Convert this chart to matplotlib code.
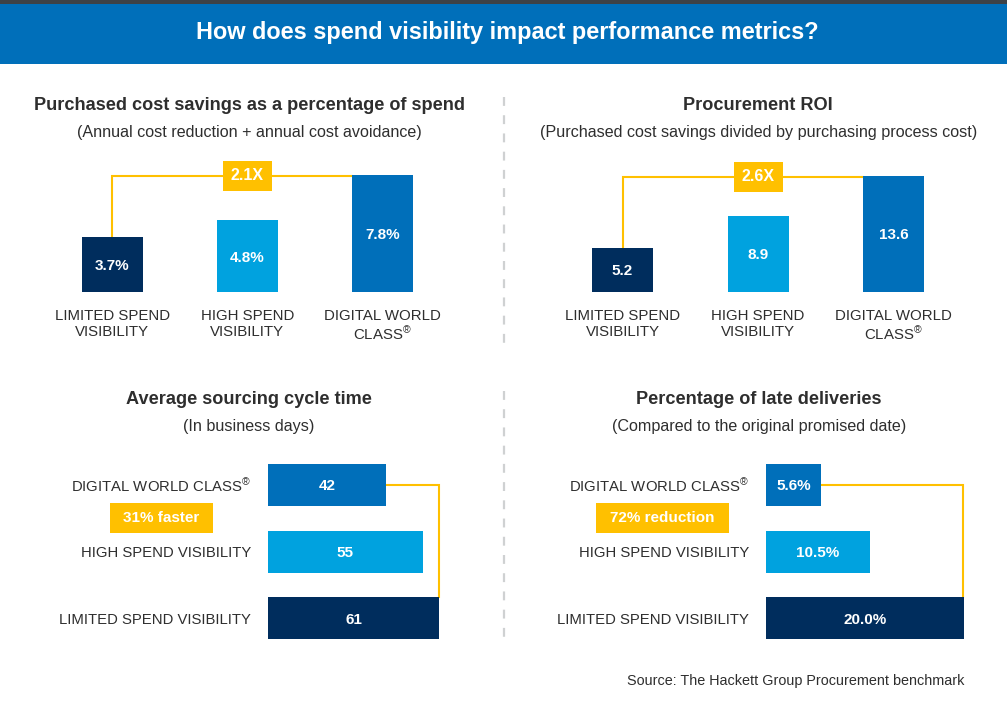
import matplotlib
matplotlib.use("Agg")
import matplotlib.pyplot as plt
from matplotlib.patches import Rectangle
from matplotlib.lines import Line2D
import matplotlib.transforms as mtransforms

plt.rcParams['font.family'] = ['Liberation Sans', 'DejaVu Sans']
plt.rcParams['mathtext.fontset'] = 'custom'
plt.rcParams['mathtext.rm'] = 'Liberation Sans'
plt.rcParams['mathtext.it'] = 'Liberation Sans'
plt.rcParams['mathtext.bf'] = 'Liberation Sans:bold'

# ---------------- data ----------------
top_categories = ["LIMITED SPEND\nVISIBILITY", "HIGH SPEND\nVISIBILITY", "DIGITAL WORLD\nCLASS$^{®}$"]
savings_values = [3.7, 4.8, 7.8]
savings_labels = ["3.7%", "4.8%", "7.8%"]
roi_values = [5.2, 8.9, 13.6]
roi_labels = ["5.2", "8.9", "13.6"]

bottom_categories = ["LIMITED SPEND VISIBILITY", "HIGH SPEND VISIBILITY", "DIGITAL WORLD CLASS$^{®}$"]
cycle_values = [61, 55, 42]
cycle_labels = ["61", "55", "42"]
late_values = [20.0, 10.5, 5.6]
late_labels = ["20.0%", "10.5%", "5.6%"]

badges = ["2.1X", "2.6X", "31% faster", "72% reduction"]

# ---------------- style ----------------
C_NAVY = "#002d5d"
C_LIGHT = "#00a2df"
C_MID = "#006fba"
C_YEL = "#ffc000"
C_TXT = "#2e2e2e"
BAR_COLORS = [C_NAVY, C_LIGHT, C_MID]

W, H = 1007, 706
fig = plt.figure(figsize=(W / 100, H / 100), dpi=100)


def px_ax(x0, y0, x1, y1):
    """axes from pixel box (top-left origin)"""
    return fig.add_axes([x0 / W, 1 - y1 / H, (x1 - x0) / W, (y1 - y0) / H])


def figtext(x, y, s, **kw):
    fig.text(x / W, 1 - y / H, s, **kw)


# banner
bg = fig.add_axes([0, 0, 1, 1])
bg.set_xlim(0, W)
bg.set_ylim(H, 0)
bg.axis("off")
bg.add_patch(Rectangle((0, 0), W, 4, color="#3d4247", lw=0))
bg.add_patch(Rectangle((0, 4), W, 60, color="#006fba", lw=0))
# dividers
bg.add_line(Line2D([504, 504], [97, 345], color="#cfd1d2", lw=1.6, dashes=(4, 4.2)))
bg.add_line(Line2D([504, 504], [391, 640], color="#cfd1d2", lw=1.6, dashes=(4, 4.2)))

figtext(507, 32, "How does spend visibility impact performance metrics?", color="white",
        fontsize=16.9, fontweight="bold", ha="center", va="center")

# titles
title_kw = dict(fontsize=13.1, fontweight="bold", color=C_TXT, ha="center", va="center")
sub_kw = dict(fontsize=11.6, color=C_TXT, ha="center", va="center")
figtext(250, 105, "Purchased cost savings as a percentage of spend", **title_kw)
figtext(249, 132, "(Annual cost reduction + annual cost avoidance)", **sub_kw)
figtext(758, 105, "Procurement ROI", **title_kw)
figtext(759, 132, "(Purchased cost savings divided by purchasing process cost)", **sub_kw)
figtext(249, 400, "Average sourcing cycle time", **title_kw)
figtext(249, 426, "(In business days)", **sub_kw)
figtext(759, 400, "Percentage of late deliveries", **title_kw)
figtext(759, 426, "(Compared to the original promised date)", **sub_kw)

figtext(964, 681, "Source: The Hackett Group Procurement benchmark", fontsize=10.4,
        color=C_TXT, ha="right", va="center")


def vertical_panel(x0, x1, c0, spacing, ppu, values, labels, badge):
    ax = px_ax(x0, 160, x1, 292)
    ax.set_xlim((x0 - c0) / spacing, (x1 - c0) / spacing)
    ax.set_ylim(0, 132 / ppu)
    ax.axis("off")
    w = 61 / spacing
    xs = list(range(len(values)))
    ax.bar(xs, values, width=w, color=BAR_COLORS, zorder=3)
    for x, v, l in zip(xs, values, labels):
        ax.text(x, v / 2, l, color="white", fontsize=11, fontweight="bold",
                ha="center", va="center_baseline", zorder=4)
    ytop = max(values) - 1 / ppu
    ax.plot([0, 0, xs[-1] - w / 2], [values[0], ytop, ytop], color=C_YEL, lw=1.5,
            zorder=2, solid_joinstyle="miter")
    ax.add_patch(Rectangle((1 - 24.5 / spacing, ytop - 15 / ppu), 49 / spacing, 30 / ppu,
                           color=C_YEL, lw=0, zorder=5, clip_on=False))
    ax.text(1, ytop, badge, color="white", fontsize=11.5, fontweight="bold",
            ha="center", va="center", zorder=6)
    for x, cat in zip(xs, top_categories):
        ax.annotate(cat, (x, 0), xytext=(0, -16.5), textcoords="offset pixels",
                    ha="center", va="top", fontsize=10.8, color=C_TXT,
                    linespacing=1.2, annotation_clip=False)
    return ax


vertical_panel(30, 470, 112.5, 135, 15.0, savings_values, savings_labels, badges[0])
vertical_panel(540, 980, 622.5, 135.5, 8.55, roi_values, roi_labels, badges[1])


def horizontal_panel(xl, ppu, values, labels, badge, badge_cx, badge_w):
    ax = px_ax(xl, 455, xl + 230, 645)
    ax.set_xlim(0, 230 / ppu)
    sp = 66.5
    ax.set_ylim(-(645 - 618) / sp, (618 - 455) / sp)
    ax.axis("off")
    h = 42 / sp
    ys = list(range(len(values)))
    ax.barh(ys, values, height=h, color=[C_NAVY, C_LIGHT, C_MID], zorder=3)
    for y, v, l in zip(ys, values, labels):
        ax.text(v / 2, y, l, color="white", fontsize=11, fontweight="bold",
                ha="center", va="center_baseline", zorder=4)
    xr = values[0] - 0.7 / ppu
    ax.plot([values[-1], xr, xr], [ys[-1], ys[-1], ys[0] + h / 2], color=C_YEL, lw=1.5,
            zorder=2, solid_joinstyle="miter")
    for y, cat in zip(ys, bottom_categories):
        ax.annotate(cat, (0, y), xytext=(-17, 0), textcoords="offset pixels",
                    ha="right", va="center_baseline", fontsize=10.7, color=C_TXT,
                    annotation_clip=False)
    # badge between top two categories
    tr = mtransforms.blended_transform_factory(fig.transFigure, ax.transData)
    yb = (ys[-1] + ys[-2]) / 2
    ax.add_patch(Rectangle(((badge_cx - badge_w / 2) / W, yb - 15 / sp), badge_w / W, 30 / sp,
                           transform=tr, color=C_YEL, lw=0, clip_on=False, zorder=5))
    ax.text(badge_cx / W, yb, badge, transform=tr, color="white", fontsize=11,
            fontweight="bold", ha="center", va="center", zorder=6)
    return ax


horizontal_panel(268, 2.81, cycle_values, cycle_labels, badges[2], 161.5, 103)
horizontal_panel(766, 9.9, late_values, late_labels, badges[3], 662.5, 133)

fig.savefig("out.png", dpi=100)
